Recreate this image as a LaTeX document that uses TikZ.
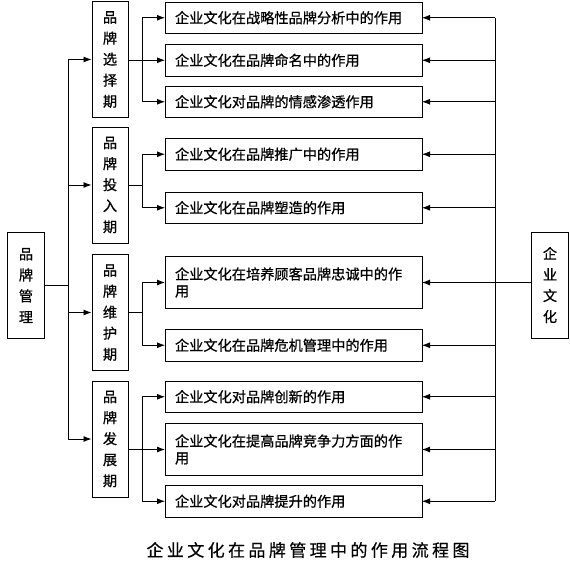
\documentclass[tikz,border=0pt]{standalone}
\usepackage{fontspec}
\setmainfont[FakeBold=0.7]{Noto Sans CJK SC}
\newfontfamily\captionfont[LetterSpace=20,FakeBold=0.4]{Noto Sans CJK SC}
\usetikzlibrary{arrows.meta,positioning}

\begin{document}
\begin{tikzpicture}[
    x=1pt,y=-1pt,
    font=\fontsize{14.2}{17}\selectfont,
    node distance=11pt,
    role/.style={draw,line width=1pt,outer sep=0pt,align=left,text width=237pt,inner xsep=10pt,inner ysep=0pt,minimum height=31.5pt},
    stage/.style={draw,line width=1pt,align=center,font=\fontsize{14.2}{21}\selectfont,text width=15pt,inner sep=0pt,minimum width=36pt,minimum height=116pt},
    side/.style={draw,line width=1pt,align=center,font=\fontsize{14.2}{21}\selectfont,text width=15pt,inner sep=0pt,minimum width=37pt,minimum height=106pt},
    line/.style={line width=0.9pt},
    arrow/.style={line width=0.9pt,-{Latex[length=8pt,width=6pt]}}
  ]
    \useasboundingbox (0,0) rectangle (570,568);
    \node[role,anchor=north west] (f1) at (165,2) {企业文化在战略性品牌分析中的作用};
    \node[role,below=of f1] (f2) {企业文化在品牌命名中的作用};
    \node[role,below=10pt of f2] (f3) {企业文化对品牌的情感渗透作用};
    \node[role,below=21pt of f3] (f4) {企业文化在品牌推广中的作用};
    \node[role,below=22pt of f4] (f5) {企业文化在品牌塑造的作用};
    \node[role,below=33pt of f5,minimum height=52pt] (f6) {企业文化在培养顾客品牌忠诚中的作\\用};
    \node[role,below=21pt of f6] (f7) {企业文化在品牌危机管理中的作用};
    \node[role,below=20pt of f7] (f8) {企业文化对品牌创新的作用};
    \node[role,below=of f8,minimum height=52pt] (f9) {企业文化在提高品牌竞争力方面的作\\用};
    \node[role,below=10pt of f9] (f10) {企业文化对品牌提升的作用};
    \node[stage] (p1) at (110,59.5) {品\\牌\\选\\择\\期};
    \node[stage] (p2) at (110,185) {品\\牌\\投\\入\\期};
    \node[stage] (p3) at (110,312.5) {品\\牌\\维\\护\\期};
    \node[stage] (p4) at (110,439) {品\\牌\\发\\展\\期};
    \node[side] (mgmt) at (26,285.5) {品\\牌\\管\\理};
    \node[side] (ctx) at (550,285) {企\\业\\文\\化};
    \node[font=\captionfont\fontsize{17}{20}\selectfont] (title) at (308,550) {企业文化在品牌管理中的作用流程图};
    \coordinate (ltrunk) at (68,0);
    \coordinate (split) at (142,0);
    \coordinate (rtrunk) at (495,0);
    \draw[line] (mgmt.east) -- (mgmt.east -| ltrunk);
    \draw[line] (ltrunk |- p1) -- (ltrunk |- p4);
    \foreach \p in {p1,p2,p3,p4}
      \draw[arrow] (ltrunk |- \p) -- (\p.west);
    \draw[arrow] (p1.east |- f2) -- (f2.west);
    \draw[line] (split |- f1) -- (split |- f3);
    \draw[line] (p2.east) -- (p2.east -| split);
    \draw[line] (split |- f4) -- (split |- f5);
    \draw[line] (p3.east) -- (p3.east -| split);
    \draw[line] (split |- f6) -- (split |- f7);
    \draw[arrow] (p4.east |- f9) -- (f9.west);
    \draw[line] (split |- f8) -- (split |- f10);
    \foreach \f in {f1,f3,f4,f5,f6,f7,f8,f10}
      \draw[arrow] (split |- \f) -- (\f.west);
    \draw[line] (rtrunk |- f1) -- (rtrunk |- f10);
    \draw[line] (ctx.west |- f6) -- (rtrunk |- f6);
    \foreach \f in {f1,f2,f3,f4,f5,f6,f7,f8,f9,f10}
      \draw[arrow] (rtrunk |- \f) -- (\f.east);
  \end{tikzpicture}
\end{document}
